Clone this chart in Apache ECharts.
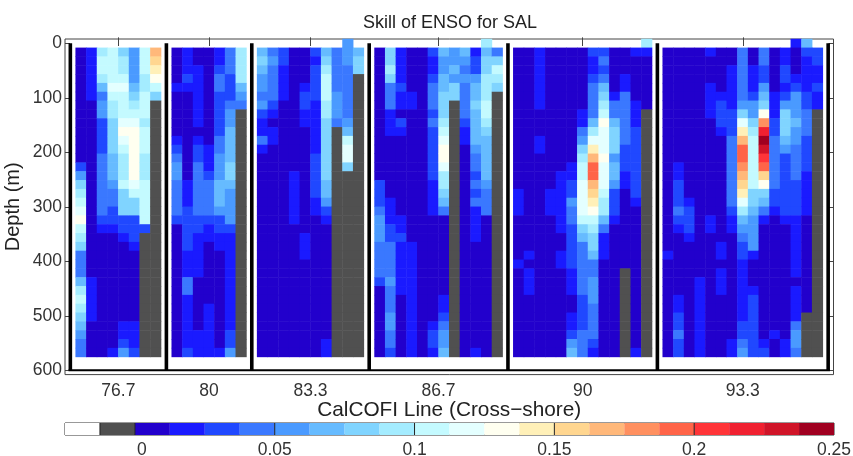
<!DOCTYPE html>
<html><head><meta charset="utf-8">
<style>html,body{margin:0;padding:0;background:#fff}#c{width:853px;height:456px}</style>
<script src="https://cdn.jsdelivr.net/npm/echarts@6/dist/echarts.min.js"></script>
</head><body><div id="c"></div>
<script>
// Class of each cell. Each array is one column, top row (above 0 m) first.
// 0 = no data, -1 = land (grey), 1..20 = colour-bar class, each 0.0125 of skill wide.
const line767 = [
[0,1,1,1,1,1,1,1,1,1,1,1,1,1,3,5,7,8,9,10,11,9,8,7,4,4,4,6,8,9,8,7,6,5,4,4],
[0,2,2,2,2,2,2,1,1,1,1,1,1,1,1,1,1,1,1,1,1,1,1,1,1,1,1,2,2,2,2,2,1,1,1,1],
[0,8,9,9,8,6,4,5,5,3,3,3,3,4,4,4,4,4,4,4,3,2,1,1,1,1,1,1,1,1,1,1,1,1,1,1],
[0,9,9,9,9,10,9,8,8,7,7,7,7,6,6,6,5,4,4,3,3,2,1,1,1,1,1,1,1,1,1,1,1,1,1,2],
[0,7,8,8,9,10,9,9,9,10,11,10,9,8,8,8,9,7,7,7,3,3,2,1,1,1,1,1,1,1,1,1,2,2,3,5],
[0,5,5,5,5,6,7,8,9,10,11,11,11,11,11,11,10,9,7,7,3,3,3,2,1,1,1,1,1,1,1,1,2,2,2,3],
[0,9,9,9,8,8,9,9,9,8,9,9,9,8,8,8,9,9,9,9,9,3,-1,-1,-1,-1,-1,-1,-1,-1,-1,-1,-1,-1,-1,-1],
[0,14,13,12,11,9,7,-1,-1,-1,-1,-1,-1,-1,-1,-1,-1,-1,-1,-1,-1,-1,-1,-1,-1,-1,-1,-1,-1,-1,-1,-1,-1,-1,-1,-1]
];
const line80 = [
[0,1,1,1,1,2,1,1,1,1,1,2,3,4,5,5,4,4,4,4,3,1,1,1,1,1,1,1,1,1,1,1,1,1,1,1],
[0,2,2,2,3,2,1,1,1,1,1,1,1,1,1,1,2,2,2,3,3,3,3,3,2,2,2,4,4,2,2,2,2,2,2,3],
[0,1,1,2,2,2,2,2,2,2,1,2,3,3,4,4,4,4,4,4,3,3,2,2,2,2,2,1,1,1,1,1,1,2,2,2],
[0,1,1,1,1,1,1,1,1,1,1,1,2,2,2,3,4,4,4,4,3,2,2,1,1,1,1,1,1,1,2,2,2,2,2,2],
[0,2,2,3,4,4,3,3,3,3,3,4,4,5,5,5,6,6,6,5,3,3,2,2,1,1,1,1,1,1,1,1,1,1,1,2],
[0,4,4,4,3,3,3,4,5,5,6,6,6,6,7,7,6,5,5,5,5,3,2,2,2,2,2,2,2,2,2,2,2,3,3,5],
[0,8,8,8,8,6,5,4,-1,-1,-1,-1,-1,-1,-1,-1,-1,-1,-1,-1,-1,-1,-1,-1,-1,-1,-1,-1,-1,-1,-1,-1,-1,-1,-1,-1]
];
const line833 = [
[0,6,7,6,5,5,4,5,3,2,2,4,2,1,1,1,1,1,1,1,1,1,1,1,1,1,1,1,1,1,1,1,1,1,1,1],
[0,4,5,4,4,4,4,3,2,1,2,2,1,1,1,1,1,1,1,1,1,1,1,1,1,1,1,1,1,1,1,1,1,1,1,1],
[0,3,3,2,2,2,2,1,1,1,1,1,1,1,1,1,1,1,1,1,1,1,1,1,1,1,1,1,1,1,1,1,1,1,1,1],
[0,1,1,1,1,1,1,1,1,1,1,1,1,1,1,2,2,2,2,2,2,1,1,1,1,1,1,1,1,1,1,1,1,1,1,1],
[0,1,1,1,1,2,3,3,2,2,1,1,1,1,1,1,1,1,1,1,1,1,2,2,2,1,1,1,1,1,1,1,1,1,1,1],
[0,3,2,3,3,3,3,2,2,2,2,2,2,3,3,3,3,3,2,2,1,1,1,1,1,1,1,1,1,1,1,1,1,1,1,1],
[0,6,7,8,9,9,9,8,8,7,7,7,7,7,7,7,6,6,5,3,2,1,1,1,1,1,1,1,1,1,1,1,1,1,2,2],
[0,4,4,4,4,4,5,5,5,4,-1,-1,-1,-1,-1,-1,-1,-1,-1,-1,-1,-1,-1,-1,-1,-1,-1,-1,-1,-1,-1,-1,-1,-1,-1,-1],
[5,5,5,4,4,4,4,4,4,5,6,9,10,10,7,-1,-1,-1,-1,-1,-1,-1,-1,-1,-1,-1,-1,-1,-1,-1,-1,-1,-1,-1,-1,-1],
[0,6,7,7,-1,-1,-1,-1,-1,-1,-1,-1,-1,-1,-1,-1,-1,-1,-1,-1,-1,-1,-1,-1,-1,-1,-1,-1,-1,-1,-1,-1,-1,-1,-1,-1]
];
const line867 = [
[0,1,1,1,1,1,1,1,1,1,1,1,1,1,1,1,3,3,3,4,5,5,5,4,4,4,4,3,1,1,1,1,1,1,1,1],
[0,7,7,8,7,4,4,4,2,2,2,1,1,1,1,1,1,1,2,2,2,3,3,4,4,4,4,5,4,4,4,5,5,4,4,3],
[0,2,2,2,2,3,2,2,1,3,2,1,1,1,1,1,1,1,1,1,2,2,3,2,2,2,2,2,2,1,1,1,1,1,1,1],
[0,1,1,1,1,1,2,2,1,1,1,1,1,1,1,1,1,1,1,1,1,1,1,2,2,2,2,2,2,2,2,2,2,2,2,2],
[0,1,1,1,1,1,1,1,1,1,1,1,1,1,1,1,1,1,1,1,1,1,1,1,1,1,1,1,1,1,1,1,1,1,1,1],
[0,3,2,2,3,4,4,4,3,4,3,3,3,3,3,3,2,2,2,2,1,1,1,1,1,1,1,1,1,1,1,1,2,3,3,2],
[0,6,5,5,6,6,7,7,7,8,9,10,11,11,10,8,8,7,6,4,1,1,1,1,1,1,1,1,1,2,2,3,4,5,5,6],
[0,5,5,6,5,7,7,-1,-1,-1,-1,-1,-1,-1,-1,-1,-1,-1,-1,-1,-1,-1,-1,-1,-1,-1,-1,-1,-1,-1,-1,-1,-1,-1,-1,-1],
[0,6,5,4,5,4,4,4,4,3,2,2,1,1,1,1,1,1,1,1,1,1,1,1,1,1,1,1,1,1,1,1,1,1,1,1],
[0,2,3,3,5,6,6,7,6,6,6,6,5,4,4,3,4,3,4,2,2,2,2,1,1,1,1,1,1,1,1,1,1,1,1,2],
[8,6,7,7,8,8,8,9,9,8,7,6,6,6,6,6,5,4,4,4,1,1,1,1,1,1,1,1,1,1,1,1,1,1,1,1],
[0,4,7,9,8,7,-1,-1,-1,-1,-1,-1,-1,-1,-1,-1,-1,-1,-1,-1,-1,-1,-1,-1,-1,-1,-1,-1,-1,-1,-1,-1,-1,-1,-1,-1]
];
const line90 = [
[0,1,1,1,1,1,1,1,1,1,1,1,1,1,1,1,1,2,2,2,1,1,1,1,1,2,1,1,1,1,1,1,1,1,1,1],
[0,1,1,1,1,1,1,1,1,1,1,1,1,1,1,1,1,1,1,1,1,1,1,1,2,1,2,2,2,1,1,1,1,1,1,1],
[0,2,2,2,2,2,2,2,1,1,1,2,2,1,1,1,1,1,1,1,1,1,1,1,1,1,1,1,1,1,1,1,1,1,1,1],
[0,1,1,1,1,1,1,1,1,1,1,1,1,1,1,1,1,2,2,2,1,1,1,1,1,1,1,1,1,1,1,1,1,1,1,1],
[0,1,1,1,1,1,1,1,1,1,1,1,1,1,1,2,2,2,2,2,2,2,1,1,2,2,1,1,1,1,1,1,1,1,1,1],
[0,1,1,1,1,1,1,1,1,1,1,1,1,1,2,2,3,3,5,4,4,3,3,3,3,3,2,2,2,1,1,2,2,3,5,6],
[0,1,1,1,1,1,1,1,2,2,4,5,7,8,9,9,10,10,10,10,9,7,6,4,4,4,4,4,4,3,3,3,3,4,4,4],
[0,3,2,2,3,4,4,4,4,6,8,10,12,14,16,16,14,13,12,11,9,8,7,7,6,4,4,5,5,5,4,4,4,4,3,2],
[0,3,4,3,4,6,7,8,9,11,10,10,10,11,10,10,10,9,8,8,6,4,2,2,2,1,1,1,1,1,1,1,1,1,1,1],
[0,1,1,1,1,1,2,4,4,6,7,7,7,5,6,6,5,3,3,3,2,1,1,1,1,1,1,1,1,1,1,1,1,1,1,1],
[0,1,1,1,2,2,4,4,4,4,4,4,3,3,3,2,2,1,1,1,1,1,1,1,1,1,-1,-1,-1,-1,-1,-1,-1,-1,-1,-1],
[0,2,1,1,1,1,1,2,2,2,3,3,3,3,3,3,3,3,2,1,1,1,1,1,1,1,1,1,1,1,1,1,1,1,1,2],
[8,2,1,1,1,1,1,1,-1,-1,-1,-1,-1,-1,-1,-1,-1,-1,-1,-1,-1,-1,-1,-1,-1,-1,-1,-1,-1,-1,-1,-1,-1,-1,-1,-1]
];
const line933 = [
[0,1,1,1,1,1,1,1,1,1,1,1,1,1,1,1,1,1,1,1,1,1,1,1,2,1,1,1,1,1,1,1,1,1,1,1],
[0,1,1,1,1,1,1,1,1,1,1,1,1,1,2,2,3,3,3,4,3,2,1,1,1,1,1,1,1,2,2,3,3,4,3,3],
[0,1,1,1,1,1,1,1,1,1,1,1,1,1,1,1,1,1,2,3,3,3,2,1,1,1,1,1,1,1,1,1,1,1,1,1],
[0,1,1,1,1,1,1,1,1,1,1,1,1,1,1,1,1,1,1,1,1,1,1,1,1,1,1,2,2,2,2,2,2,2,2,2],
[0,2,1,1,1,2,2,2,2,1,1,1,1,1,1,1,1,1,1,1,2,2,1,1,1,1,1,1,1,1,1,1,1,1,1,1],
[0,1,1,1,1,1,2,3,3,3,2,1,1,1,1,1,1,1,1,1,1,1,1,2,2,1,2,2,2,1,1,1,1,1,1,1],
[0,1,1,2,2,2,2,2,3,3,3,4,4,4,4,4,4,4,4,3,2,2,1,1,1,1,1,1,1,1,1,1,1,1,2,2],
[0,4,4,4,4,4,4,5,7,10,12,14,16,16,15,14,13,12,10,8,6,5,4,3,3,2,2,2,2,2,2,2,3,3,4,5],
[0,1,1,2,2,2,3,5,5,7,8,9,9,9,9,9,9,7,7,6,5,5,5,5,2,1,1,1,2,3,3,3,3,3,3,3],
[0,4,4,3,3,5,6,7,11,15,18,20,19,17,16,13,11,7,6,4,2,1,1,1,1,1,1,1,1,1,1,1,1,1,2,3],
[0,1,1,1,1,1,2,2,2,3,3,4,4,4,4,4,4,3,3,2,1,1,1,1,1,1,1,1,1,1,1,1,1,2,1,1],
[0,2,2,3,3,2,3,5,7,7,7,6,5,3,3,3,3,3,3,3,2,1,1,1,1,1,1,1,1,1,1,1,1,1,2,2],
[2,1,1,1,2,3,5,5,5,6,5,5,4,4,4,4,3,3,3,3,2,2,2,2,2,2,2,1,2,2,2,2,4,5,5,4],
[6,3,2,2,2,2,3,3,4,4,4,3,3,3,3,2,2,2,2,2,1,1,1,1,1,1,1,1,1,1,1,-1,-1,-1,-1,-1],
[0,3,3,2,2,3,2,2,-1,-1,-1,-1,-1,-1,-1,-1,-1,-1,-1,-1,-1,-1,-1,-1,-1,-1,-1,-1,-1,-1,-1,-1,-1,-1,-1,-1]
];
const lineNames = ['76.7','80','83.3','86.7','90','93.3'];
const lineColumns = [line767,line80,line833,line867,line90,line933];
const depthTicks = [0,100,200,300,400,500,600];
const skillTicks = [0,0.05,0.1,0.15,0.2,0.25];
const classWidth = 0.0125;
const noDataColor = '#ffffff';
const landColor = '#505050';
const classColors = ['#2200cc','#1a1aff','#2048ff','#3a78ff','#4a9aff','#66bbff','#80d4ff','#a4ecff','#c4faff','#e4ffff',
  '#fffff0','#fff0b8','#ffd690','#ffb87a','#ff9060','#ff6448','#ff3438','#f02030','#d01428','#a00020'];

// Lay the panels on one grid of columns, with a one-column gap round each.
const heat = [];
const separators = [0.5];
const centers = [];
let col = 1;
lineColumns.forEach((cols) => {
  centers.push(col + cols.length / 2);
  cols.forEach((column, i) => {
    column.forEach((k, row) => {
      if (k !== 0) heat.push([col + i, row, (k - 0.5) * classWidth]);
    });
  });
  col += cols.length;
  separators.push(col + 0.5);
  col += 1;
});
const totalCols = col;
const totalRows = 38;
const depthMin = -8, depthMax = 608;

const pieces = [{lt: 0, color: landColor}].concat(classColors.map((c, i) => ({gt: i * classWidth, lte: (i + 1) * classWidth, color: c})));
const cbar = [noDataColor, landColor].concat(classColors).map((c, i) => [(i - 2) * classWidth, (i - 1) * classWidth, c]);
const font = '"Liberation Sans", Arial, sans-serif';
const txt = '#222';
const frame = '#444';

const chart = echarts.init(document.getElementById('c'), null, {renderer: 'canvas'});
chart.setOption({
  animation: false,
  backgroundColor: '#fff',
  title: {text: 'Skill of ENSO for SAL', left: 445, top: 9, textAlign: 'center',
    textStyle: {fontFamily: font, fontSize: 18, fontWeight: 'normal', color: txt}},
  grid: [
    {left: 65, top: 39, width: 768.5, height: 335.6, show: true, borderColor: frame, borderWidth: 1, backgroundColor: '#fff', outerBoundsMode: 'none'},
    {left: 65, top: 423, width: 769, height: 12, show: true, borderColor: '#333', borderWidth: 1, outerBoundsMode: 'none'}
  ],
  visualMap: {show: false, type: 'piecewise', seriesIndex: 0, dimension: 2, pieces: pieces},
  xAxis: [
    {type: 'category', gridIndex: 0, data: Array.from({length: totalCols}, (_, i) => i), show: false},
    {type: 'value', gridIndex: 0, min: 0, max: totalCols, position: 'bottom',
      name: 'CalCOFI Line (Cross\u2212shore)', nameLocation: 'middle', nameGap: 25, nameMoveOverlap: false,
      nameTextStyle: {fontFamily: font, fontSize: 20.8, color: txt},
      axisLine: {show: false}, splitLine: {show: false},
      axisTick: {show: true, inside: true, length: 6, customValues: centers, lineStyle: {color: frame}},
      axisLabel: {show: true, customValues: centers, margin: 8, fontFamily: font, fontSize: 17.5, color: '#333',
        formatter: v => lineNames[centers.indexOf(v)] || ''}},
    {type: 'value', gridIndex: 0, min: 0, max: totalCols, position: 'top',
      axisLine: {show: false}, splitLine: {show: false}, axisLabel: {show: false},
      axisTick: {show: true, inside: true, length: 7, customValues: centers, lineStyle: {color: frame}}},
    {type: 'value', gridIndex: 1, min: -0.025, max: 0.25, position: 'bottom',
      axisLine: {show: false}, splitLine: {show: false}, axisTick: {show: false},
      axisLabel: {show: true, customValues: skillTicks, margin: 6, fontFamily: font, fontSize: 17.5, color: '#333',
        hideOverlap: false, formatter: v => v === 0 ? '{z|0}' : String(v),
        rich: {z: {padding: [0, 0, 0, 14], fontFamily: font, fontSize: 17.5, color: '#333'}}}}
  ],
  yAxis: [
    {type: 'category', gridIndex: 0, inverse: true, data: Array.from({length: totalRows}, (_, i) => i), show: false},
    {type: 'value', gridIndex: 0, min: depthMin, max: depthMax, inverse: true, position: 'left',
      name: 'Depth (m)', nameLocation: 'middle', nameGap: 42, nameRotate: 90, nameMoveOverlap: false,
      nameTextStyle: {fontFamily: font, fontSize: 20, color: txt},
      axisLine: {show: false}, splitLine: {show: false},
      axisTick: {show: true, inside: true, length: 5, customValues: depthTicks, lineStyle: {color: frame}},
      axisLabel: {show: true, customValues: depthTicks, margin: 3, fontFamily: font, fontSize: 17.5, color: '#333'}},
    {type: 'value', gridIndex: 0, min: depthMin, max: depthMax, inverse: true, position: 'right',
      axisLine: {show: false}, splitLine: {show: false}, axisLabel: {show: false},
      axisTick: {show: true, inside: true, length: 5, customValues: depthTicks, lineStyle: {color: frame}}},
    {type: 'value', gridIndex: 1, min: 0, max: 1, show: false}
  ],
  series: [
    {type: 'heatmap', xAxisIndex: 0, yAxisIndex: 0, data: heat, progressive: 0, silent: true,
      itemStyle: {borderWidth: 0}, emphasis: {disabled: true}},
    {type: 'custom', xAxisIndex: 1, yAxisIndex: 1, z: 5, silent: true, clip: false,
      data: separators.map(s => [s]),
      renderItem: (p, api) => {
        const a = api.coord([api.value(0), 0]);
        const b = api.coord([api.value(0), 600]);
        return {type: 'line', shape: {x1: a[0], y1: a[1], x2: b[0], y2: b[1]}, style: {stroke: '#000', lineWidth: 3.6}};
      }},
    {type: 'custom', xAxisIndex: 1, yAxisIndex: 1, z: 5, silent: true, clip: false,
      data: [[separators[0], separators[separators.length - 1]]],
      renderItem: (p, api) => {
        const a = api.coord([api.value(0), 600]);
        const b = api.coord([api.value(1), 600]);
        return {type: 'line', shape: {x1: a[0] - 1.8, y1: a[1], x2: b[0] + 1.8, y2: b[1]}, style: {stroke: '#000', lineWidth: 2.2}};
      }},
    {type: 'custom', xAxisIndex: 3, yAxisIndex: 3, silent: true,
      data: cbar.map(d => [d[0], d[1]]),
      renderItem: (p, api) => {
        const a = api.coord([api.value(0), 1]);
        const b = api.coord([api.value(1), 0]);
        return {type: 'rect', shape: {x: a[0], y: a[1], width: b[0] - a[0], height: b[1] - a[1]}, style: {fill: cbar[p.dataIndex][2]}};
      }},
    {type: 'custom', xAxisIndex: 3, yAxisIndex: 3, z: 5, silent: true,
      data: [-0.0125, 0].concat(skillTicks.slice(1, -1)).map(v => [v]),
      renderItem: (p, api) => {
        const a = api.coord([api.value(0), 1]);
        const b = api.coord([api.value(0), 0]);
        return {type: 'line', shape: {x1: a[0], y1: a[1], x2: b[0], y2: b[1]}, style: {stroke: '#222', lineWidth: 1}};
      }}
  ]
});
</script></body></html>
